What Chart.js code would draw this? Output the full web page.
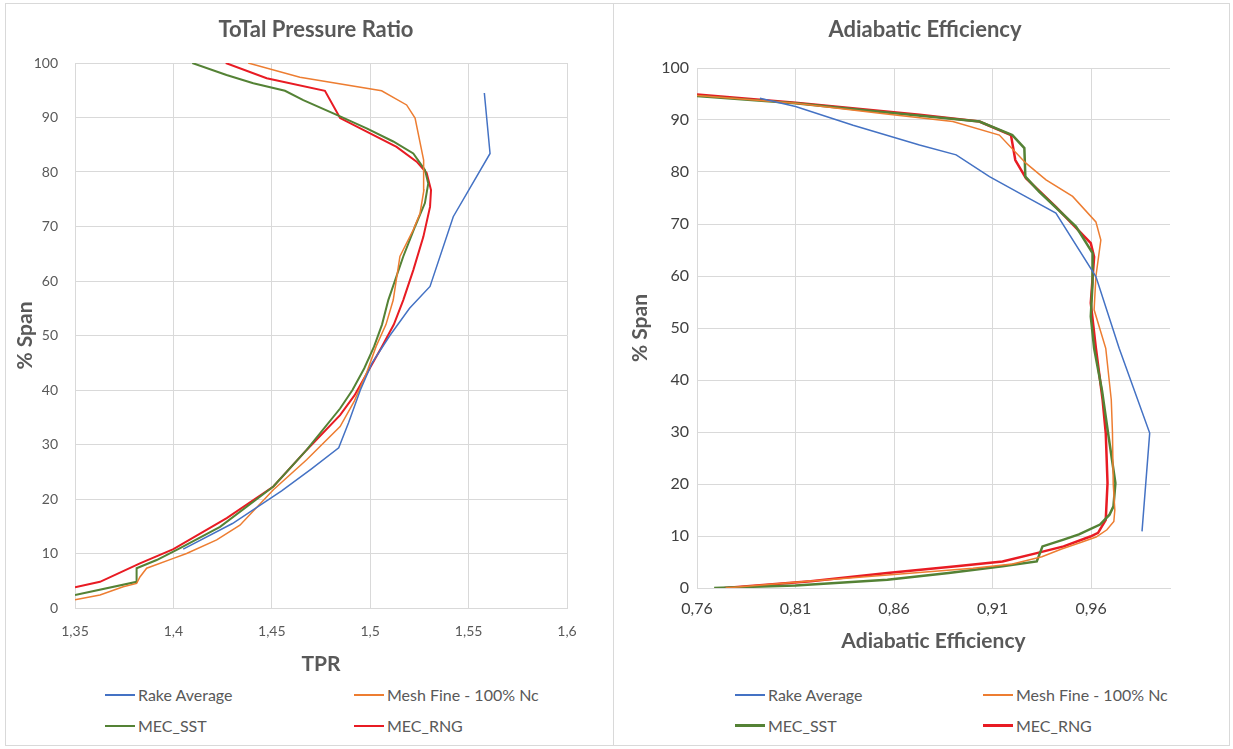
<!DOCTYPE html>
<html>
<head>
<meta charset="utf-8">
<script src="https://cdn.jsdelivr.net/npm/chart.js@4"></script>
<style>
  body { margin: 0; width: 1233px; height: 749px; background: #fff; position: relative; overflow: hidden; font-family: Lato, sans-serif; }
  .panel { position: absolute; border: 1px solid #d9d9d9; box-sizing: border-box; }
  canvas { position: absolute; }
  .item { position: absolute; display: flex; align-items: center; white-space: nowrap; color: #595959; font-size: 16px; }
  .item .line { display: inline-block; width: 30px; margin-right: 3px; }
</style>
</head>
<body>
<div class="panel" style="left:5px;top:3px;width:609px;height:743px"></div>
<div class="panel" style="left:613px;top:3px;width:617px;height:743px"></div>
<canvas id="tpr-chart" width="632" height="680" style="left:0;top:0;width:632px;height:680px"></canvas>
<canvas id="eff-chart" width="622" height="680" style="left:614px;top:0;width:622px;height:680px"></canvas>
<div id="tpr-legend"></div>
<div id="eff-legend"></div>
<script>
const seriesNames = ['Rake Average', 'Mesh Fine - 100% Nc', 'MEC_SST', 'MEC_RNG'];

const spanTicks = [0, 10, 20, 30, 40, 50, 60, 70, 80, 90, 100];
const tprTicks = [1.35, 1.4, 1.45, 1.5, 1.55, 1.6];
const effTicks = [0.76, 0.81, 0.86, 0.91, 0.96];

// TPR vs % span  [TPR, span]
const tprRake = [[1.405, 10.8], [1.43, 15.5], [1.455, 21.5], [1.47, 25.5], [1.484, 29.4], [1.489, 34], [1.495, 40],
  [1.501, 45], [1.51, 50], [1.52, 55], [1.5304, 59], [1.5422, 71.8], [1.5609, 83.4], [1.558, 94.5]];
const tprMesh = [[1.35, 1.5], [1.3627, 2.4], [1.3745, 3.9], [1.3813, 4.5], [1.383, 5.7], [1.3864, 7.3], [1.40, 9.1],
  [1.4067, 10.0], [1.422, 12.5], [1.4338, 15.2], [1.4508, 21.7], [1.4677, 27.2], [1.4847, 33.3], [1.492, 38],
  [1.498, 43], [1.503, 48], [1.508, 52], [1.5117, 56.5], [1.5151, 64.5], [1.5219, 69.4], [1.5253, 72.4],
  [1.5273, 76.7], [1.5273, 79.8], [1.527, 82.2], [1.5228, 89.9], [1.5185, 92.3], [1.5058, 94.9],
  [1.4643, 97.4], [1.438, 100]];
const tprSst = [[1.35, 2.4], [1.3813, 4.8], [1.3813, 7.3], [1.3915, 8.8], [1.4034, 11.0], [1.4237, 14.9],
  [1.4508, 22.3], [1.4677, 29.0], [1.4847, 36.6], [1.491, 40], [1.497, 44], [1.502, 48], [1.506, 52],
  [1.5092, 56.5], [1.5168, 64.5], [1.5228, 70.0], [1.5278, 74.3], [1.5295, 77.9], [1.5278, 80.4],
  [1.5219, 83.4], [1.5117, 85.6], [1.4982, 88.0], [1.4847, 90.2], [1.466, 93.2], [1.4567, 94.9],
  [1.4406, 96.3], [1.427, 97.8], [1.4096, 100]];
const tprRng = [[1.35, 3.8], [1.3627, 4.8], [1.383, 8.2], [1.40, 10.8], [1.4271, 16.5], [1.4508, 22.3],
  [1.4677, 29.0], [1.4847, 35.4], [1.492, 39], [1.499, 43.5], [1.506, 48], [1.512, 52], [1.5168, 56.5],
  [1.5219, 62.0], [1.527, 68.1], [1.5304, 73.6], [1.5309, 76.7], [1.5287, 79.8], [1.5236, 81.9],
  [1.5134, 84.6], [1.4982, 87.4], [1.4847, 89.9], [1.477, 94.9], [1.4474, 97.2], [1.4266, 100]];

// Adiabatic efficiency vs % span  [eff, span]
const effRake = [[0.7919, 94.2], [0.81, 92.6], [0.8392, 89.0], [0.8729, 85.2], [0.8915, 83.3], [0.9084, 79.1],
  [0.9252, 75.6], [0.9421, 72.1], [0.9624, 59.9], [0.9742, 46.1], [0.9897, 29.8], [0.9858, 10.9]];
const effMesh = [[0.7745, 0], [0.81, 1.1], [0.86, 2.6], [0.9, 3.8], [0.92, 4.6], [0.935, 6.0], [0.945, 7.5],
  [0.955, 8.8], [0.9625, 9.8], [0.968, 11.2], [0.9715, 12.8], [0.972, 15], [0.9712, 20], [0.9708, 30],
  [0.9702, 36.2], [0.9674, 46.1], [0.9615, 53.5], [0.9624, 59.9], [0.9649, 66.9], [0.9624, 70.4],
  [0.9506, 75.3], [0.9371, 78.5], [0.9269, 81.7], [0.9134, 87.1], [0.8898, 89.7], [0.8527, 91.3],
  [0.81, 93.2], [0.76, 94.7]];
const effSst = [[0.7687, 0], [0.81, 0.5], [0.8566, 1.6], [0.8877, 2.9], [0.915, 4.2], [0.9324, 5.1],
  [0.9353, 8.0], [0.946, 9.3], [0.9538, 10.3], [0.9645, 12.2], [0.9693, 14.1], [0.9713, 15.7],
  [0.9723, 20.2], [0.9685, 30], [0.9655, 38], [0.9615, 46.1], [0.9598, 52.2], [0.9607, 58.6],
  [0.9607, 64.4], [0.9523, 69.5], [0.9337, 76.2], [0.9266, 79.1], [0.9261, 84.6], [0.92, 87.1],
  [0.9033, 89.7], [0.8527, 91.6], [0.81, 93.2], [0.76, 94.6]];
const effRng = [[0.774, 0], [0.8177, 1.3], [0.8566, 2.9], [0.8916, 4.2], [0.915, 5.1], [0.9324, 6.7],
  [0.946, 8.0], [0.9596, 9.9], [0.9635, 10.6], [0.9674, 13.1], [0.9683, 20.2], [0.9674, 29.8],
  [0.9658, 36.2], [0.9624, 46.1], [0.9598, 54.8], [0.9615, 63.7], [0.9598, 66.3], [0.9421, 73.3],
  [0.9269, 78.8], [0.9215, 82.3], [0.9193, 87.1], [0.9033, 89.7], [0.8729, 91.0], [0.81, 93.3],
  [0.76, 94.9]];

const colors = ['#4472C4', '#ED7D31', '#548235', '#E81B23'];
const textColor = '#595959';
const gridColor = '#d9d9d9';

function makeChart(id, cfg) {
  return new Chart(document.getElementById(id), {
    type: 'scatter',
    data: {
      datasets: seriesNames.map((name, i) => ({
        label: name,
        data: cfg.series[i].map(([x, y]) => ({ x, y })),
        borderColor: colors[i],
        backgroundColor: colors[i],
        borderWidth: cfg.widths[i],
        showLine: true,
        pointRadius: 0,
        tension: 0,
        fill: false
      }))
    },
    options: {
      responsive: false,
      animation: false,
      layout: { padding: 0 },
      plugins: {
        legend: { display: false },
        tooltip: { enabled: false },
        title: {
          display: true,
          text: cfg.title,
          color: textColor,
          font: { family: 'Lato', size: 22, weight: 'bold' },
          padding: { top: 16.8, bottom: cfg.titleGap }
        }
      },
      scales: {
        x: {
          type: 'linear',
          min: cfg.xTicks[0],
          max: cfg.xMax,
          afterBuildTicks: s => { s.ticks = cfg.xTicks.map(v => ({ value: v })); },
          afterFit: s => { s.height = cfg.xHeight; },
          ticks: {
            color: cfg.tickColor,
            font: { family: 'Lato', size: cfg.tickSize },
            padding: cfg.xTickPad,
            maxRotation: 0,
            autoSkip: false,
            callback: v => String(v).replace('.', ',')
          },
          grid: { color: gridColor, drawTicks: false },
          border: { color: gridColor },
          title: {
            display: true,
            text: cfg.xTitle,
            color: textColor,
            font: { family: 'Lato', size: 21, weight: 'bold' },
            padding: { top: 0, bottom: cfg.xTitlePad }
          }
        },
        y: {
          min: 0,
          max: 100,
          afterBuildTicks: s => { s.ticks = spanTicks.map(v => ({ value: v })); },
          afterFit: s => { s.width = cfg.yWidth; },
          ticks: {
            color: cfg.tickColor,
            font: { family: 'Lato', size: cfg.tickSize },
            padding: cfg.yTickPad
          },
          grid: { color: gridColor, drawTicks: false },
          border: { display: false },
          title: {
            display: true,
            text: '% Span',
            color: textColor,
            font: { family: 'Lato', size: 21, weight: 'bold' },
            padding: { top: cfg.yTitlePad, bottom: 0 }
          }
        },
        // empty right-hand scale: only keeps the plot clear of the right edge
        spacer: {
          type: 'linear',
          position: 'right',
          afterFit: s => { s.width = cfg.rightGap; },
          ticks: { display: false },
          grid: { display: false, drawTicks: false },
          border: { display: false }
        }
      }
    }
  });
}

function buildLegend(chart, id, pos) {
  const box = document.getElementById(id);
  chart.data.datasets.forEach((ds, i) => {
    const item = document.createElement('div');
    item.className = 'item';
    item.style.left = pos[i][0] + 'px';
    item.style.top = pos[i][1] + 'px';
    const line = document.createElement('span');
    line.className = 'line';
    line.style.height = Math.max(2, ds.borderWidth) + 'px';
    line.style.background = ds.borderColor;
    item.appendChild(line);
    item.appendChild(document.createTextNode(ds.label));
    box.appendChild(item);
  });
}

const tprChart = makeChart('tpr-chart', {
  series: [tprRake, tprMesh, tprSst, tprRng],
  widths: [1.5, 1.5, 2, 2],
  title: 'ToTal Pressure Ratio',
  titleGap: 19.8,
  rightGap: 65,
  xTicks: tprTicks,
  xMax: 1.6,
  xHeight: 72,
  xTickPad: 15,
  xTitle: 'TPR',
  xTitlePad: 3.4,
  yWidth: 75,
  yTickPad: 17,
  yTitlePad: 12.4,
  tickSize: 14,
  tickColor: '#595959'
});

const effChart = makeChart('eff-chart', {
  series: [effRake, effMesh, effSst, effRng],
  widths: [1.5, 1.5, 2.5, 2.5],
  title: 'Adiabatic Efficiency',
  titleGap: 24.8,
  rightGap: 66,
  xTicks: effTicks,
  xMax: 1.0,
  xHeight: 92,
  xTickPad: 11,
  xTitle: 'Adiabatic Efficiency',
  xTitlePad: 26.4,
  yWidth: 83,
  yTickPad: 8,
  yTitlePad: 13.4,
  tickSize: 16,
  tickColor: '#404040'
});

buildLegend(tprChart, 'tpr-legend', [[105, 685], [354, 685], [105, 716], [354, 716]]);
buildLegend(effChart, 'eff-legend', [[735, 685], [983, 685], [735, 716], [983, 716]]);
</script>
</body>
</html>
